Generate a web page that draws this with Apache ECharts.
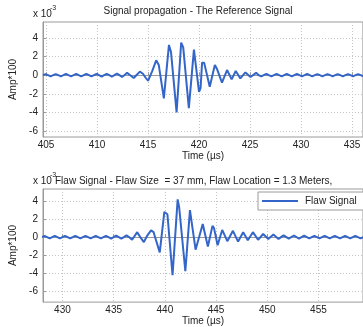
<!DOCTYPE html>
<html>
<head>
<meta charset="utf-8">
<script src="https://cdn.jsdelivr.net/npm/echarts@6/dist/echarts.min.js"></script>
<style>
  html, body { margin: 0; padding: 0; background: #fff; }
  #chart { width: 363px; height: 327px; }
</style>
</head>
<body>
<div id="chart"></div>
<script>
// Reference signal: time (µs) and amplitude (x 10^-3, Amp*100)
const refTime = [
  404.7, 404.95, 405.2, 405.45, 405.7, 405.95, 406.2, 406.45, 406.7, 406.95,
  407.2, 407.45, 407.7, 407.95, 408.2, 408.45, 408.7, 408.95, 409.2, 409.45,
  409.7, 409.95, 410.2, 410.45, 410.7, 410.95, 411.2, 411.45, 411.7, 411.95,
  412.2, 412.45, 412.7, 412.95, 413.25, 413.6, 413.9, 414.2, 414.5, 414.75,
  415.0, 415.4, 415.8, 416.05, 416.55, 417.05, 417.25, 417.8, 418.25, 418.45,
  419.0, 419.5, 420.0, 420.15, 420.3, 420.5, 421.05, 421.55, 421.75, 422.25,
  422.75, 423.2, 423.6, 424.05, 424.55, 425.05, 425.6, 425.85, 426.1, 426.35,
  426.6, 426.85, 427.1, 427.35, 427.6, 427.85, 428.1, 428.35, 428.6, 428.85,
  429.1, 429.35, 429.6, 429.85, 430.1, 430.35, 430.6, 430.85, 431.1, 431.35,
  431.6, 431.85, 432.1, 432.35, 432.6, 432.85, 433.1, 433.35, 433.6, 433.85,
  434.1, 434.35, 434.6, 434.85, 435.1, 435.35, 435.6, 435.85, 436.1
];
const refAmp = [
  0, 0.1, 0, -0.12, 0, 0.12, 0, -0.12, 0, 0.13,
  0, -0.12, 0, 0.13, 0, -0.13, 0, 0.13, 0, -0.14,
  0, 0.14, 0, -0.15, 0, 0.15, 0, -0.17, 0, 0.18,
  0, -0.2, 0.02, 0.25, 0, -0.3, 0.05, 0.38, 0.15, -0.25,
  -0.6, 0.4, 1.6, 1.1, -2.5, 3.25, 2.5, -4.0, 3.5, 3.0,
  -3.55, 2.75, -1.8, -1.4, 1.35, 1.35, -1.25, 1.1, 0.7, -0.8,
  0.55, -0.45, 0.45, -0.35, 0.3, -0.2, 0.25, 0, -0.14, 0,
  0.14, 0, -0.13, 0, 0.13, 0, -0.13, 0, 0.13, 0,
  -0.13, 0, 0.13, 0, -0.12, 0, 0.13, 0, -0.12, 0,
  0.12, 0, -0.12, 0, 0.12, 0, -0.12, 0, 0.12, 0,
  -0.12, 0, 0.12, 0, -0.12, 0, 0.12, 0, -0.12
];

// Flaw signal: time (µs) and amplitude (x 10^-3, Amp*100)
const flawTime = [
  428.0, 428.25, 428.5, 428.75, 429.0, 429.25, 429.5, 429.75, 430.0, 430.25,
  430.5, 430.75, 431.0, 431.25, 431.5, 431.75, 432.0, 432.25, 432.5, 432.75,
  433.0, 433.25, 433.5, 433.75, 434.0, 434.25, 434.5, 434.75, 435.0, 435.25,
  435.5, 435.75, 436.0, 436.25, 436.5, 436.8, 437.3, 437.6, 437.95, 438.3,
  438.65, 438.9, 439.5, 439.95, 440.25, 440.75, 441.25, 441.4, 442.0, 442.45,
  443.0, 443.15, 443.7, 444.2, 444.65, 444.8, 445.15, 445.6, 446.1, 446.65,
  447.15, 447.65, 448.1, 448.6, 449.1, 449.6, 450.1, 450.6, 451.1, 451.6,
  452.1, 452.6, 453.1, 453.6, 454.1, 454.6, 455.1, 455.6, 456.1, 456.6,
  457.1, 457.6, 458.1, 458.6, 459.1, 459.4
];
const flawAmp = [
  0, 0.12, 0, -0.14, 0, 0.15, 0, -0.15, 0, 0.15,
  0, -0.15, 0, 0.15, 0, -0.15, 0, 0.15, 0, -0.15,
  0, 0.15, 0, -0.15, 0, 0.15, 0, -0.16, 0, 0.17,
  0, -0.17, 0, 0.2, 0, -0.3, 0.55, 0, -0.55, 0.2,
  0.75, 0.55, -1.7, 2.8, 2.55, -4.25, 4.2, 3.3, -3.8, 3.0,
  -1.4, -1.45, 1.45, -1.05, 1.25, 1.0, -0.9, 0.8, -0.45, 0.7,
  -0.5, 0.55, -0.35, 0.55, -0.3, 0.35, -0.2, 0.3, -0.2, 0.2,
  -0.17, 0.18, -0.16, 0.16, -0.15, 0.15, -0.15, 0.15, -0.15, 0.15,
  -0.15, 0.15, -0.15, 0.15, -0.15, 0
];

// Tick labels
const refTicks = [405, 410, 415, 420, 425, 430, 435];
const flawTicks = [430, 435, 440, 445, 450, 455];
const ampTicks = [-6, -4, -2, 0, 2, 4];

const FONT = '"Liberation Sans", Arial, sans-serif';
const LINE = '#3465c8';

function pairs(t, v) {
  return t.map((x, i) => [x, v[i]]);
}

function xAxisFor(idx, min, max, ticks) {
  return {
    type: 'value', gridIndex: idx, min: min, max: max,
    name: 'Time (\u00b5s)', nameLocation: 'middle', nameGap: 13,
    nameTextStyle: { fontFamily: FONT, fontSize: 10, color: '#222' },
    axisLine: { show: true, lineStyle: { color: '#9a9a9a', width: 1 } },
    axisTick: { show: true, inside: true, length: 3, customValues: ticks, lineStyle: { color: '#9a9a9a' } },
    axisLabel: { customValues: ticks, margin: 3, fontFamily: FONT, fontSize: 10, color: '#222' },
    splitLine: { show: true, lineStyle: { color: '#c4c4c4', type: [1, 2], width: 1 } }
  };
}

function yAxisFor(idx, min, max) {
  return {
    type: 'value', gridIndex: idx, min: min, max: max,
    name: 'Amp*100', nameLocation: 'middle', nameGap: 25, nameRotate: 90,
    nameTextStyle: { fontFamily: FONT, fontSize: 10, color: '#222' },
    axisLine: { show: true, lineStyle: { color: '#9a9a9a', width: 1 } },
    axisTick: { show: true, inside: true, length: 3, customValues: ampTicks, lineStyle: { color: '#9a9a9a' } },
    axisLabel: { customValues: ampTicks, margin: 5, fontFamily: FONT, fontSize: 10, color: '#222' },
    splitLine: { show: true, lineStyle: { color: '#c4c4c4', type: [1, 2], width: 1 } }
  };
}

const chart = echarts.init(document.getElementById('chart'), null, { renderer: 'canvas' });

chart.setOption({
  animation: false,
  backgroundColor: '#fff',
  grid: [
    { left: 33, top: 22, width: 330, height: 115, show: true, borderColor: '#9a9a9a', borderWidth: 1 },
    { left: 33, top: 189, width: 330, height: 115, show: true, borderColor: '#9a9a9a', borderWidth: 1 }
  ],
  xAxis: [
    xAxisFor(0, 404.7, 436.07, refTicks),
    xAxisFor(1, 428.1, 459.35, flawTicks)
  ],
  yAxis: [
    yAxisFor(0, -6.65, 5.72),
    yAxisFor(1, -7.24, 5.36)
  ],
  legend: {
    data: [{ name: 'Flaw Signal', icon: 'rect' }],
    left: 258, top: 192,
    padding: [4, 8, 4, 4],
    itemWidth: 36, itemHeight: 2, itemGap: 6,
    borderColor: '#9a9a9a', borderWidth: 1, borderRadius: 0,
    backgroundColor: '#fff',
    textStyle: { fontFamily: FONT, fontSize: 10, color: '#222', padding: [0, 0, 0, 2] }
  },
  graphic: [
    { type: 'text', x: 198, y: 6, z: 10,
      style: { text: 'Signal propagation - The Reference Signal', align: 'center', font: '10px ' + FONT, fill: '#222' } },
    { type: 'text', x: 33, y: 9, z: 10,
      style: { text: 'x 10', font: '10px ' + FONT, fill: '#222' } },
    { type: 'text', x: 50, y: 5, z: 10,
      style: { text: '-3', font: '7px ' + FONT, fill: '#222' } },
    { type: 'text', x: 33, y: 176, z: 10,
      style: { text: 'x 10', font: '10px ' + FONT, fill: '#222' } },
    { type: 'text', x: 50, y: 172, z: 10,
      style: { text: '-3', font: '7px ' + FONT, fill: '#222' } },
    { type: 'text', x: 55, y: 176, z: 10,
      style: { text: 'Flaw Signal - Flaw Size  = 37 mm, Flaw Location = 1.3 Meters,', font: '10px ' + FONT, fill: '#222' } }
  ],
  series: [
    { name: 'Reference Signal', type: 'line', xAxisIndex: 0, yAxisIndex: 0,
      data: pairs(refTime, refAmp), symbol: 'none', showSymbol: false,
      lineStyle: { color: LINE, width: 2 }, itemStyle: { color: LINE } },
    { name: 'Flaw Signal', type: 'line', xAxisIndex: 1, yAxisIndex: 1,
      data: pairs(flawTime, flawAmp), symbol: 'none', showSymbol: false,
      lineStyle: { color: LINE, width: 2 }, itemStyle: { color: LINE } }
  ]
});
</script>
</body>
</html>
